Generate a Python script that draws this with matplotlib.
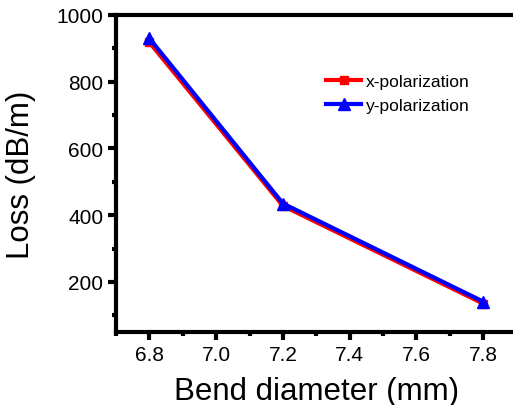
import numpy as np
import matplotlib
matplotlib.use('Agg')
import matplotlib.pyplot as plt
from matplotlib.ticker import MultipleLocator

plt.rcParams['font.family'] = ['Liberation Sans', 'DejaVu Sans']

# data
diam = [6.8, 7.2, 7.8]
loss_x = [918, 428, 135]
loss_y = [930, 435, 141]

fig = plt.figure(figsize=(5.13, 4.06), dpi=100)
ax = fig.add_axes([0.2261, 0.1798, 0.781, 0.7808])

ax.plot(diam, loss_x, color='#ff0000', lw=3, marker='s', ms=6, label='x-polarization')
ax.plot(diam, loss_y, color='#0000ff', lw=3, marker='^', ms=8, label='y-polarization')

ax.set_xlim(6.7, 7.9)
ax.set_ylim(50, 1000)
ax.set_xticks([6.8, 7.0, 7.2, 7.4, 7.6, 7.8])
ax.set_yticks([200, 400, 600, 800, 1000])
ax.xaxis.set_minor_locator(MultipleLocator(0.1))
ax.yaxis.set_minor_locator(MultipleLocator(100))
ax.tick_params(which='major', direction='out', length=6, width=3, labelsize=15, pad=3)
ax.tick_params(which='minor', direction='out', length=3, width=3)
for s in ax.spines.values():
    s.set_linewidth(3)

ax.set_xlabel('Bend diameter (mm)', fontsize=22.5, labelpad=9)
ax.set_ylabel('Loss (dB/m)', fontsize=22.5, labelpad=15)

ax.legend(loc='center', bbox_to_anchor=(0.775, 0.767), bbox_transform=fig.transFigure,
          frameon=False, fontsize=12.5, handlelength=2.05, handletextpad=0.25,
          labelspacing=0.48)

fig.savefig('out.png', dpi=100)
